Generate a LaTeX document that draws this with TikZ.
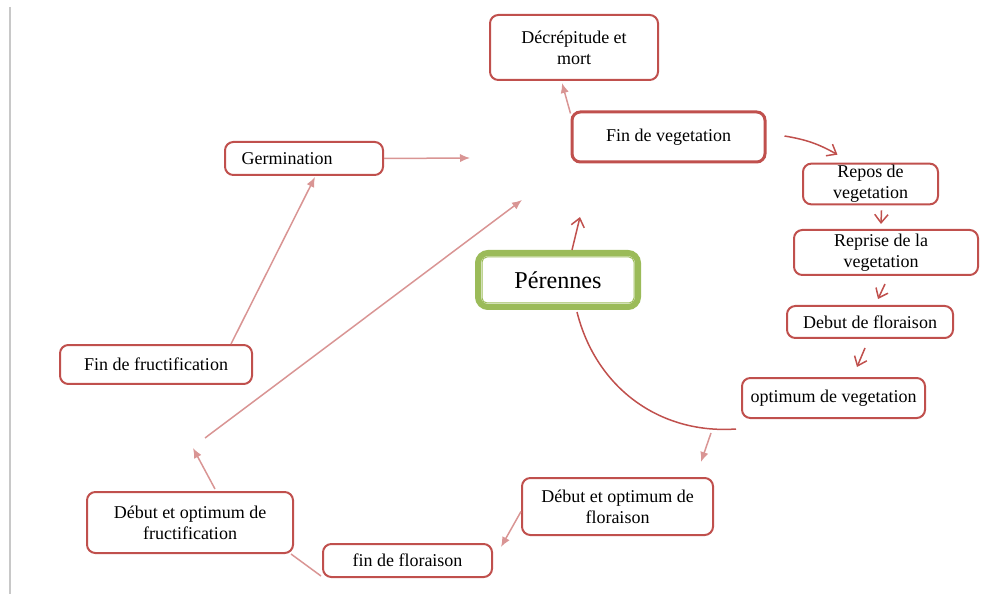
\documentclass[tikz,border=0pt]{standalone}
\usepackage{fontspec}
\setmainfont{Liberation Serif}
\usetikzlibrary{arrows.meta, positioning, calc}
\definecolor{boxred}{RGB}{192, 80, 77}
\definecolor{lightred}{RGB}{217, 149, 148}
\definecolor{olivegreen}{RGB}{155, 187, 89}
\definecolor{pagegray}{RGB}{200, 200, 200}

\begin{document}
\begin{tikzpicture}[x=0.6pt, y=-0.6pt,
    phase/.style={draw=boxred, line width=1.2pt, rounded corners=5pt, fill=white,
                  align=center, inner sep=1pt, font=\fontsize{10.8}{12.6}\selectfont},
    pinkline/.style={draw=lightred, line width=0.9pt},
    pinkarrow/.style={pinkline, -{Latex[length=6pt, width=5pt]}},
    redarrow/.style={draw=boxred, line width=0.9pt, -{Straight Barb[length=5pt, width=8pt]}}]
    \useasboundingbox (0,0) rectangle (1003,594);
    % page margin
    \draw[pagegray, line width=1pt] (10,7) -- (10,594);

    % central box
    \node[draw=olivegreen, line width=3.6pt, rounded corners=6pt, minimum width=96pt,
          minimum height=32.4pt, font=\fontsize{14.5}{16}\selectfont] (per) at (558,280) {Pérennes};
    \draw[olivegreen, line width=0.6pt, rounded corners=3pt]
          ($(per.south west)+(4.2pt,4.2pt)$) rectangle ($(per.north east)-(4.2pt,4.2pt)$);

    % phases of the cycle
    \node[phase, minimum width=100.8pt, minimum height=39pt] (decr) at (574,47.5) {Décrépitude et\\mort};
    \node[phase, line width=1.8pt, minimum width=115.8pt, minimum height=30pt] (finveg) at (668.5,137) {Fin de vegetation};
    \node[phase, minimum width=81pt, minimum height=22.8pt] (repos) at (870.5,184) {Repos de\\vegetation};
    \node[phase, minimum width=110.4pt, minimum height=27pt] (reprise) at (886,252.5) {\hspace*{-6pt}Reprise de la\\\hspace*{-6pt}vegetation};
    \node[phase, minimum width=99.6pt, minimum height=19.2pt] (debflor) at (870,322) {Debut de floraison};
    \node[phase, minimum width=109.8pt, minimum height=24pt] (optveg) at (833.5,398) {optimum de vegetation};
    \node[phase, minimum width=114.6pt, minimum height=34.2pt] (optflor) at (617.5,506.5) {Début et optimum de\\floraison};
    \node[phase, minimum width=101.4pt, minimum height=19.8pt] (finflor) at (407.5,560.5) {fin de floraison};
    \node[phase, minimum width=123.6pt, minimum height=36.6pt] (optfruc) at (190,522.5) {Début et optimum de\\fructification};
    \node[phase, minimum width=115.2pt, minimum height=23.4pt] (finfruc) at (156,364.5) {Fin de fructification};
    \node[phase, text width=74.8pt, inner xsep=10pt, align=left, minimum height=19.8pt] (germ) at (304,158.5) {Germination};

    % free ends
    \coordinate (germend) at (470,158);
    \coordinate (longstart) at (205,438);
    \coordinate (longend) at (522,200);
    \coordinate (perend) at (580,217);
    \coordinate (fruend) at (193,448);

    % connectors
    \draw[pinkarrow] ([shift={(0,3)}]finveg.north west) -- ([shift={(-12,2)}]decr.south);
    \draw[redarrow] ([shift={(18,-1)}]finveg.east) to[bend left=10] ([shift={(-33,-8)}]repos.north);
    \draw[redarrow] ([shift={(11,5)}]repos.south) -- ([shift={(-5,-5)}]reprise.north);
    \draw[redarrow] ([shift={(-1,8)}]reprise.south) -- ([shift={(8,-6)}]debflor.north);
    \draw[redarrow] ([shift={(-5,9)}]debflor.south) -- ([shift={(23.5,-10)}]optveg.north);
    \draw[draw=boxred, line width=0.9pt] ([shift={(-5,10)}]optveg.south west) to[out=184, in=-76] ([shift={(19,2)}]per.south);
    \draw[redarrow] ([shift={(14,0)}]per.north) -- (perend);
    \draw[pinkarrow] ([shift={(-30,14)}]optveg.south west) -- ([shift={(-13,-15)}]optflor.north east);
    \draw[pinkarrow] ([shift={(0,5)}]optflor.west) -- ([shift={(8,4)}]finflor.north east);
    \draw[pinkline] ([shift={(-1,-2)}]finflor.south west) -- ([shift={(-3,0)}]optfruc.south east);
    \draw[pinkarrow] ([shift={(25,-2)}]optfruc.north) -- (fruend);
    \draw[pinkarrow] (longstart) -- (longend);
    \draw[pinkarrow] ([shift={(-22,0)}]finfruc.north east) -- ([shift={(11,1)}]germ.south);
    \draw[pinkarrow] (germ.east) -- (germend);
\end{tikzpicture}
\end{document}
